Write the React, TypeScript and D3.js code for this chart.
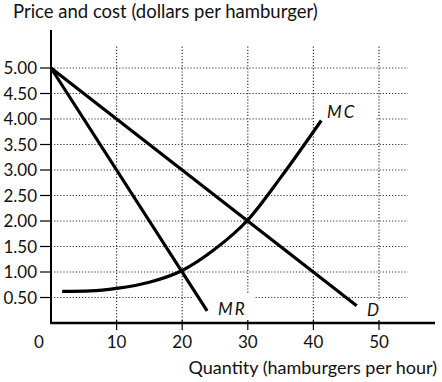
import React from "react";
import * as d3 from "d3";

const W = 442;
const H = 382;

const xTicks = [0, 10, 20, 30, 40, 50];
const yTicks = [0.5, 1, 1.5, 2, 2.5, 3, 3.5, 4, 4.5, 5];
const yTickLabels = ["0.50", "1.00", "1.50", "2.00", "2.50", "3.00", "3.50", "4.00", "4.50", "5.00"];

// Demand: P = 5 - 0.1 Q
const demandQ = [0, 46.6];
const demandP = [5, 0.34];
// Marginal revenue: P = 5 - 0.2 Q
const mrQ = [0, 23.8];
const mrP = [5, 0.24];
// Marginal cost curve
const mcQ = [1.7, 6, 10, 15, 20, 25, 30, 35, 41.2];
const mcP = [0.62, 0.63, 0.68, 0.8, 1.03, 1.45, 2.02, 2.85, 3.97];

const FONT = "Lato, 'Open Sans', sans-serif";

export default function App() {
  const x = d3.scaleLinear().domain([0, 50]).range([51, 379]);
  const y = d3.scaleLinear().domain([0, 5]).range([323, 68]);

  const line = d3
    .line<[number, number]>()
    .x((d) => x(d[0]))
    .y((d) => y(d[1]));
  const curve = d3
    .line<[number, number]>()
    .x((d) => x(d[0]))
    .y((d) => y(d[1]))
    .curve(d3.curveMonotoneX);

  const dPts = demandQ.map((q, i) => [q, demandP[i]] as [number, number]);
  const mrPts = mrQ.map((q, i) => [q, mrP[i]] as [number, number]);
  const mcPts = mcQ.map((q, i) => [q, mcP[i]] as [number, number]);

  const gridRight = x(54.4);
  const gridTop = y(5.42);
  const dots = "1.2,1.9";

  return (
    <svg
      width={W}
      height={H}
      style={{ position: "fixed", left: 0, top: 0, background: "#fff" }}
      fontFamily={FONT}
    >
      {/* gridlines */}
      {yTicks.map((t) => (
        <line
          key={"h" + t}
          x1={x(0)}
          x2={gridRight}
          y1={y(t)}
          y2={y(t)}
          stroke="#333"
          strokeWidth={1.2}
          strokeDasharray={dots}
        />
      ))}
      {xTicks.slice(1).map((t) => (
        <line
          key={"v" + t}
          x1={x(t)}
          x2={x(t)}
          y1={gridTop}
          y2={y(0)}
          stroke="#333"
          strokeWidth={1.2}
          strokeDasharray={dots}
        />
      ))}
      {/* label gaps */}
      <rect x={193} y={294} width={62} height={27} fill="#fff" />
      <rect x={314} y={104} width={61} height={17} fill="#fff" />
      <rect x={363} y={301} width={20} height={20} fill="#fff" />

      {/* axes */}
      <line x1={x(0)} x2={x(0)} y1={30} y2={y(0) + 1} stroke="#000" strokeWidth={2} />
      <line x1={x(0) - 1} x2={435} y1={y(0)} y2={y(0)} stroke="#000" strokeWidth={2.4} />
      {yTicks.map((t) => (
        <line key={"yt" + t} x1={40} x2={x(0)} y1={y(t)} y2={y(t)} stroke="#000" strokeWidth={1.2} />
      ))}
      {xTicks.slice(1).map((t) => (
        <line key={"xt" + t} x1={x(t)} x2={x(t)} y1={y(0) - 3} y2={y(0) + 7} stroke="#000" strokeWidth={1.2} />
      ))}

      {/* tick labels */}
      {yTicks.map((t, i) => (
        <text key={"yl" + t} x={37} y={y(t)} dy="0.36em" textAnchor="end" fontSize={17} fill="#111">
          {yTickLabels[i]}
        </text>
      ))}
      {xTicks.map((t) => (
        <text key={"xl" + t} x={t === 0 ? 39 : x(t)} y={342} dy="0.36em" textAnchor="middle" fontSize={17} fill="#111">
          {t}
        </text>
      ))}

      {/* curves */}
      <path d={line(dPts) || ""} fill="none" stroke="#000" strokeWidth={3.2} />
      <path d={line(mrPts) || ""} fill="none" stroke="#000" strokeWidth={3.2} />
      <path d={curve(mcPts) || ""} fill="none" stroke="#000" strokeWidth={3.2} />

      {/* curve labels */}
      <text x={327} y={112} dy="0.36em" fontSize={17} fontStyle="italic" letterSpacing={2} fill="#111">
        MC
      </text>
      <text x={218} y={309} dy="0.36em" fontSize={17} fontStyle="italic" letterSpacing={2} fill="#111">
        MR
      </text>
      <text x={367} y={310} dy="0.36em" fontSize={17} fontStyle="italic" fill="#111">
        D
      </text>

      {/* axis titles */}
      <text x={13} y={11} dy="0.36em" fontSize={18.5} fill="#111">
        Price and cost (dollars per hamburger)
      </text>
      <text x={437} y={368} dy="0.36em" textAnchor="end" fontSize={18} fill="#111">
        Quantity (hamburgers per hour)
      </text>
    </svg>
  );
}
